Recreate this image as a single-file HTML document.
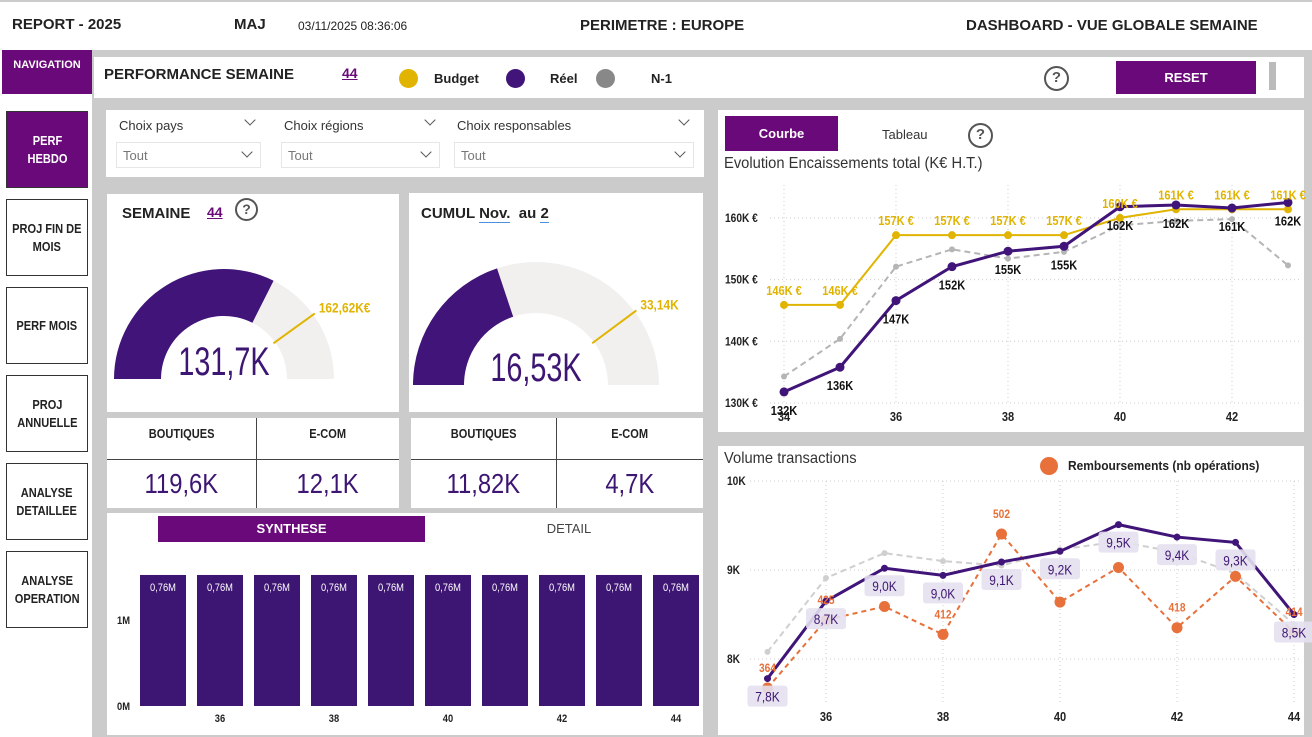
<!DOCTYPE html>
<html><head><meta charset="utf-8"><style>
*{box-sizing:border-box;margin:0;padding:0}
body{width:1312px;height:737px;position:relative;overflow:hidden;background:#cbcbcb;font-family:"Liberation Sans",sans-serif;color:#222}
.a{position:absolute}
.w{position:absolute;background:#fff}
.b{font-weight:bold}
.cn{display:inline-block;transform:scaleX(.85);transform-origin:center}
.nav{position:absolute;left:6px;width:82px;height:77px;border:1px solid #333;background:#fff;display:flex;align-items:center;justify-content:center;text-align:center;font-weight:bold;font-size:13px;line-height:18px;white-space:nowrap}
.dd{position:absolute;height:26px;border:1px solid #e6e6e6;color:#777;font-size:13px;padding:5px 0 0 6px}
.lbl{position:absolute;font-size:13px;color:#333}
.chev{position:absolute;width:8px;height:8px;border-right:1px solid #555;border-bottom:1px solid #555;transform:rotate(45deg)}
.big{position:absolute;color:#3d1572;text-align:center}
</style></head><body>
<div class="w" style="left:0;top:2px;width:1312px;height:48px"></div>
<div class="a b" style="left:12px;top:16px;font-size:15px">REPORT - 2025</div>
<div class="a b" style="left:234px;top:16px;font-size:15px">MAJ</div>
<div class="a" style="left:298px;top:19px;font-size:12px">03/11/2025 08:36:06</div>
<div class="a b" style="left:580px;top:17px;font-size:15px">PERIMETRE : EUROPE</div>
<div class="a b" style="left:966px;top:17px;font-size:15px">DASHBOARD - VUE GLOBALE SEMAINE</div>

<div class="w" style="left:0;top:50px;width:92px;height:687px"></div>
<div class="a b" style="left:2px;top:50px;width:90px;height:44px;background:#6a0a7a;color:#fff;font-size:11px;text-align:center;padding-top:9px">NAVIGATION</div>
<div class="nav" style="top:111px;background:#6a0a7a;color:#fff"><span class="cn">PERF<br>HEBDO</span></div>
<div class="nav" style="top:199px"><span class="cn">PROJ FIN DE<br>MOIS</span></div>
<div class="nav" style="top:287px"><span class="cn">PERF MOIS</span></div>
<div class="nav" style="top:375px"><span class="cn">PROJ<br>ANNUELLE</span></div>
<div class="nav" style="top:463px"><span class="cn">ANALYSE<br>DETAILLEE</span></div>
<div class="nav" style="top:551px"><span class="cn">ANALYSE<br>OPERATION</span></div>

<div class="w" style="left:94px;top:57px;width:1210px;height:41px"></div>
<div class="a b" style="left:104px;top:66px;font-size:15px">PERFORMANCE SEMAINE</div>
<div class="a b" style="left:342px;top:65px;font-size:14px;color:#6a0a7a;text-decoration:underline">44</div>
<div class="a" style="left:399px;top:69px;width:19px;height:19px;border-radius:50%;background:#e0b400"></div>
<div class="a b" style="left:434px;top:71px;font-size:13px">Budget</div>
<div class="a" style="left:506px;top:69px;width:19px;height:19px;border-radius:50%;background:#401478"></div>
<div class="a b" style="left:550px;top:71px;font-size:13px">Réel</div>
<div class="a" style="left:596px;top:69px;width:19px;height:19px;border-radius:50%;background:#888"></div>
<div class="a b" style="left:651px;top:71px;font-size:13px">N-1</div>
<div class="a b" style="left:1044px;top:66px;width:25px;height:25px;border:2.5px solid #555;border-radius:50%;text-align:center;font-size:15px;color:#555;line-height:20px">?</div>
<div class="a b" style="left:1116px;top:61px;width:140px;height:33px;background:#6a0a7a;color:#fff;font-size:13px;text-align:center;line-height:33px">RESET</div>
<div class="a" style="left:1269px;top:62px;width:7px;height:28px;background:#bbb"></div>

<div class="w" style="left:106px;top:110px;width:598px;height:67px"></div>
<div class="lbl" style="left:119px;top:118px">Choix pays</div>
<div class="chev" style="left:246px;top:116px"></div>
<div class="dd" style="left:116px;top:142px;width:145px">Tout<div class="chev" style="left:126px;top:5px"></div></div>
<div class="lbl" style="left:284px;top:118px">Choix régions</div>
<div class="chev" style="left:426px;top:116px"></div>
<div class="dd" style="left:281px;top:142px;width:159px">Tout<div class="chev" style="left:140px;top:5px"></div></div>
<div class="lbl" style="left:457px;top:118px">Choix responsables</div>
<div class="chev" style="left:680px;top:116px"></div>
<div class="dd" style="left:454px;top:142px;width:240px">Tout<div class="chev" style="left:221px;top:5px"></div></div>

<div class="w" style="left:107px;top:194px;width:292px;height:218px"></div>
<div class="a b" style="left:122px;top:205px;font-size:15px">SEMAINE</div>
<div class="a b" style="left:207px;top:204px;font-size:14px;color:#6a0a7a;text-decoration:underline">44</div>
<div class="a b" style="left:235px;top:198px;width:23px;height:23px;border:2.5px solid #555;border-radius:50%;text-align:center;font-size:14px;color:#555;line-height:18px">?</div>
<div class="w" style="left:409px;top:193px;width:294px;height:219px"></div>
<div class="a b" style="left:421px;top:205px;font-size:15px">CUMUL <span style="border-bottom:1px solid #4a90e2">Nov.</span>&nbsp; au <span style="border-bottom:1px solid #4a90e2">2</span></div>

<div class="w" style="left:107px;top:418px;width:292px;height:90px"></div>
<div class="w" style="left:411px;top:418px;width:292px;height:90px"></div>
<div class="a" style="left:107px;top:459px;width:292px;height:1px;background:#444"></div>
<div class="a" style="left:411px;top:459px;width:292px;height:1px;background:#444"></div>
<div class="a" style="left:256px;top:418px;width:1px;height:90px;background:#444"></div>
<div class="a" style="left:556px;top:418px;width:1px;height:90px;background:#444"></div>
<div class="a b" style="left:107px;top:426px;width:149px;text-align:center;font-size:13px"><span class="cn">BOUTIQUES</span></div>
<div class="a b" style="left:256px;top:426px;width:143px;text-align:center;font-size:13px"><span class="cn">E-COM</span></div>
<div class="a b" style="left:411px;top:426px;width:145px;text-align:center;font-size:13px"><span class="cn">BOUTIQUES</span></div>
<div class="a b" style="left:556px;top:426px;width:147px;text-align:center;font-size:13px"><span class="cn">E-COM</span></div>
<div class="big" style="left:107px;top:468px;width:149px;font-size:28px"><span class="cn">119,6K</span></div>
<div class="big" style="left:256px;top:468px;width:143px;font-size:28px"><span class="cn">12,1K</span></div>
<div class="big" style="left:411px;top:468px;width:145px;font-size:28px"><span class="cn">11,82K</span></div>
<div class="big" style="left:556px;top:468px;width:147px;font-size:28px"><span class="cn">4,7K</span></div>

<div class="w" style="left:107px;top:513px;width:596px;height:222px"></div>
<div class="a b" style="left:158px;top:516px;width:267px;height:26px;background:#6a0a7a;color:#fff;font-size:13px;text-align:center;line-height:26px">SYNTHESE</div>
<div class="a" style="left:425px;top:516px;width:288px;height:26px;font-size:13px;text-align:center;line-height:26px;color:#444">DETAIL</div>

<div class="w" style="left:718px;top:110px;width:586px;height:322px"></div>
<div class="a b" style="left:725px;top:116px;width:113px;height:35px;background:#6a0a7a;color:#fff;font-size:13px;text-align:center;line-height:35px">Courbe</div>
<div class="a" style="left:882px;top:127px;font-size:13px;color:#333">Tableau</div>
<div class="a b" style="left:968px;top:123px;width:25px;height:25px;border:2.5px solid #555;border-radius:50%;text-align:center;font-size:15px;color:#555;line-height:20px">?</div>
<div class="a" style="left:724px;top:155px;font-size:16px;color:#333;transform:scaleX(.92);transform-origin:left">Evolution Encaissements total (K€ H.T.)</div>

<div class="w" style="left:718px;top:446px;width:586px;height:289px"></div>
<div class="a" style="left:724px;top:450px;font-size:16px;color:#333;transform:scaleX(.92);transform-origin:left">Volume transactions</div>
<div class="a" style="left:1040px;top:457px;width:18px;height:18px;border-radius:50%;background:#e8703a"></div>
<div class="a b" style="left:1068px;top:458px;font-size:13px;transform:scaleX(.92);transform-origin:left">Remboursements (nb opérations)</div>

<svg class="a" id="ov" style="left:0;top:0" width="1312" height="737"></svg>

<script>
// ===== Gauge data =====
const gaugeValues=[131.7,16.53];
const gaugeTargets=[162.62,33.14];
const gaugeMax=[203,41.6];
const gaugeLabels=["131,7K","16,53K"];
const gaugeTargetLabels=["162,62K€","33,14K"];

// ===== Bar chart data =====
const barWeeks=[35,36,37,38,39,40,41,42,43,44];
const barValues=[0.76,0.76,0.76,0.76,0.76,0.76,0.76,0.76,0.76,0.76];
const barLabels=["0,76M","0,76M","0,76M","0,76M","0,76M","0,76M","0,76M","0,76M","0,76M","0,76M"];
const barTickVals=[0,0.5];
const barTickLabels=["0M","1M"];

// ===== Evolution chart data =====
const evoWeeks=[34,35,36,37,38,39,40,41,42,43];
const evoReel=[131.8,135.8,146.6,152.1,154.6,155.4,161.8,162.1,161.6,162.5];
const evoBudget=[145.9,145.9,157.2,157.2,157.2,157.2,160.0,161.4,161.4,161.4];
const evoN1=[134.3,140.4,152.1,154.9,153.4,154.5,158.8,159.5,159.8,152.3];
const evoReelLabels=["132K","136K","147K","152K","155K","155K","162K","162K","161K","162K"];
const evoBudgetLabels=["146K €","146K €","157K €","157K €","157K €","157K €","160K €","161K €","161K €","161K €"];
const evoYTicks=[130,140,150,160];
const evoXTicks=[34,36,38,40,42];

// ===== Volume chart data =====
const volWeeks=[35,36,37,38,39,40,41,42,43,44];
const volValues=[7.78,8.65,9.02,8.94,9.09,9.21,9.51,9.37,9.31,8.5];
const volN1=[8.08,8.91,9.19,9.10,9.05,9.23,9.32,9.20,8.96,8.39];
const volLabels=["7,8K","8,7K","9,0K","9,0K","9,1K","9,2K","9,5K","9,4K","9,3K","8,5K"];
const refunds=[364,425,437,412,502,441,472,418,464,414];
const refundLabels=["364","425","","412","502","","","418","","414"];
const volYTicks=[8,9,10];
const volYTickLabels=["8K","9K","10K"];
const volXTicks=[36,38,40,42,44];

const NS="http://www.w3.org/2000/svg";
const svg=document.getElementById('ov');
function mk(tag,attrs,parent){const e=document.createElementNS(NS,tag);for(const k in attrs)e.setAttribute(k,attrs[k]);(parent||svg).appendChild(e);return e;}
function txt(x,y,s,attrs,parent){
  const sx=0.85;
  const t=mk('text',Object.assign({x:x,y:y,'font-family':'"Liberation Sans",sans-serif',transform:`translate(${x} ${y}) scale(${sx} 1) translate(${-x} ${-y})`},attrs),parent);
  t.textContent=s;return t;}

// ---- gauges ----
const gCenters=[[224,379,110,63],[536,385,123,72]];
function arcPath(cx,cy,r0,r1,f0,f1){
  const a0=Math.PI*(1-f0),a1=Math.PI*(1-f1);
  const p=(r,a)=>[cx+r*Math.cos(a),cy-r*Math.sin(a)];
  const [x0,y0]=p(r1,a0),[x1,y1]=p(r1,a1),[x2,y2]=p(r0,a1),[x3,y3]=p(r0,a0);
  return `M${x0},${y0} A${r1},${r1} 0 0 1 ${x1},${y1} L${x2},${y2} A${r0},${r0} 0 0 0 ${x3},${y3} Z`;
}
gaugeValues.forEach((v,i)=>{
  const [cx,cy,ro,ri]=gCenters[i];
  const g=mk('g',{});
  
  
  const bg=mk('path',{d:arcPath(cx,cy,ri,ro,0,1),fill:'#f1f0ef'},g);
  
  
  const f=v/gaugeMax[i];
  const fill=mk('path',{d:arcPath(cx,cy,ri,ro,0,f),fill:'#401478'},g);
  
  
  const tf=gaugeTargets[i]/gaugeMax[i],ta=Math.PI*(1-tf);
  const tl=mk('line',{x1:cx+(ri-2)*Math.cos(ta),y1:cy-(ri-2)*Math.sin(ta),x2:cx+(ro+2)*Math.cos(ta),y2:cy-(ro+2)*Math.sin(ta),stroke:'#e0b400','stroke-width':2},g);
  
  
  const tt=txt(cx+(ro+2)*Math.cos(ta)+4,cy-(ro+2)*Math.sin(ta)-1,gaugeTargetLabels[i],{'font-size':14,'font-weight':'bold',fill:'#e0b400'},g);
  
  
  const vt=txt(cx,cy-4,gaugeLabels[i],{'font-size':40,fill:'#3d1572','text-anchor':'middle'},g);
  vt.setAttribute('transform',`translate(${cx} ${cy-4}) scale(0.72 1) translate(${-cx} ${-(cy-4)})`);
  
  
});

// ---- bar chart ----
const bx=w=>220+(w-36)*57;
const by=v=>706-v*172.4;
const bg2=mk('g',{});


barTickVals.forEach((v,i)=>{const t=txt(130,by(v)+4,barTickLabels[i],{'font-size':11,'font-weight':'bold','text-anchor':'end',fill:'#222'},bg2);
  
  });
barWeeks.forEach((w,i)=>{
  const r=mk('rect',{x:bx(w)-23,y:by(barValues[i]),width:46,height:706-by(barValues[i]),fill:'#3d1572'},bg2);
  
  
  const t=txt(bx(w),by(barValues[i])+16,barLabels[i],{'font-size':11,fill:'#fff','text-anchor':'middle'},bg2);
  
  
  if(w%2===0){const xt=txt(bx(w),722,String(w),{'font-size':11,'font-weight':'bold','text-anchor':'middle',fill:'#222'},bg2);
    
    }
});

// ---- evolution line chart ----
const ex=w=>784+(w-34)*56;
const ey=v=>403-(v-130)*6.17;
const eg=mk('g',{});


evoYTicks.forEach(v=>{
  mk('line',{x1:770,x2:1300,y1:ey(v),y2:ey(v),stroke:'#ccc','stroke-dasharray':'1,3'},eg);
  const t=txt(725,ey(v)+4,v+'K €',{'font-size':12,'font-weight':'bold',fill:'#222'},eg);
  
  
});
evoXTicks.forEach(w=>{
  mk('line',{x1:ex(w),x2:ex(w),y1:185,y2:403,stroke:'#ccc','stroke-dasharray':'1,3'},eg);
  const t=txt(ex(w),421,String(w),{'font-size':13,'font-weight':'bold','text-anchor':'middle',fill:'#222'},eg);
  
  
});
function poly(xs,ys,xf,yf,attrs,name,parent,dot,dotName){
  const pts=xs.map((w,i)=>xf(w)+','+yf(ys[i])).join(' ');
  const l=mk('polyline',Object.assign({points:pts,fill:'none'},attrs),parent);
  
  
  xs.forEach((w,i)=>{const c=mk('circle',{cx:xf(w),cy:yf(ys[i]),r:dot.r,fill:dot.fill},parent);
    
    });
}
poly(evoWeeks,evoN1,ex,ey,{stroke:'#b5b5b5','stroke-width':2,'stroke-dasharray':'6,4'},'n1-line',eg,{r:3,fill:'#b5b5b5'},'n1-point');
poly(evoWeeks,evoBudget,ex,ey,{stroke:'#e0b400','stroke-width':2},'budget-line',eg,{r:4,fill:'#e0b400'},'budget-point');
poly(evoWeeks,evoReel,ex,ey,{stroke:'#401478','stroke-width':3},'reel-line',eg,{r:4.5,fill:'#401478'},'reel-point');
evoWeeks.forEach((w,i)=>{
  const a=txt(ex(w),ey(evoBudget[i])-10,evoBudgetLabels[i],{'font-size':13,'font-weight':'bold','text-anchor':'middle',fill:'#e0b400'},eg);
  
  
  const b=txt(ex(w),ey(evoReel[i])+23,evoReelLabels[i],{'font-size':13,'font-weight':'bold','text-anchor':'middle',fill:'#111'},eg);
  
  
});

// ---- volume chart ----
const vx=w=>826+(w-36)*58.5;
const vy=v=>659-(v-8)*89;
const ry=v=>688-(v-364)*1.116;
const vg=mk('g',{});


volYTicks.forEach((v,i)=>{
  mk('line',{x1:750,x2:1300,y1:vy(v),y2:vy(v),stroke:'#ccc','stroke-dasharray':'1,3'},vg);
  const t=txt(727,vy(v)+4,volYTickLabels[i],{'font-size':12,'font-weight':'bold',fill:'#222'},vg);
  
  
});
volXTicks.forEach(w=>{
  mk('line',{x1:vx(w),x2:vx(w),y1:481,y2:705,stroke:'#ccc','stroke-dasharray':'1,3'},vg);
  const t=txt(vx(w),721,String(w),{'font-size':13,'font-weight':'bold','text-anchor':'middle',fill:'#222'},vg);
  
  
});
poly(volWeeks,volN1,vx,vy,{stroke:'#cfcfcf','stroke-width':2,'stroke-dasharray':'6,4'},'vol-n1-line',vg,{r:3,fill:'#cfcfcf'},'vol-n1-point');
poly(volWeeks,refunds,vx,ry,{stroke:'#e8703a','stroke-width':2,'stroke-dasharray':'5,4'},'refunds-line',vg,{r:5.5,fill:'#e8703a'},'refund-point');
poly(volWeeks,volValues,vx,vy,{stroke:'#401478','stroke-width':3},'volume-line',vg,{r:3.5,fill:'#401478'},'volume-point');
volWeeks.forEach((w,i)=>{
  const cx=vx(w),cy=vy(volValues[i])+18;
  const r=mk('rect',{x:cx-20,y:cy-11,width:40,height:21,rx:3,fill:'#e4e0ee','fill-opacity':0.9},vg);
  
  
  const t=txt(cx,cy+5,volLabels[i],{'font-size':14,'text-anchor':'middle',fill:'#3d1572'},vg);
  
  
  if(refundLabels[i]){const o=txt(cx,ry(refunds[i])-16,refundLabels[i],{'font-size':12,'font-weight':'bold','text-anchor':'middle',fill:'#e8703a'},vg);
    
    }
});
</script>
</body></html>
